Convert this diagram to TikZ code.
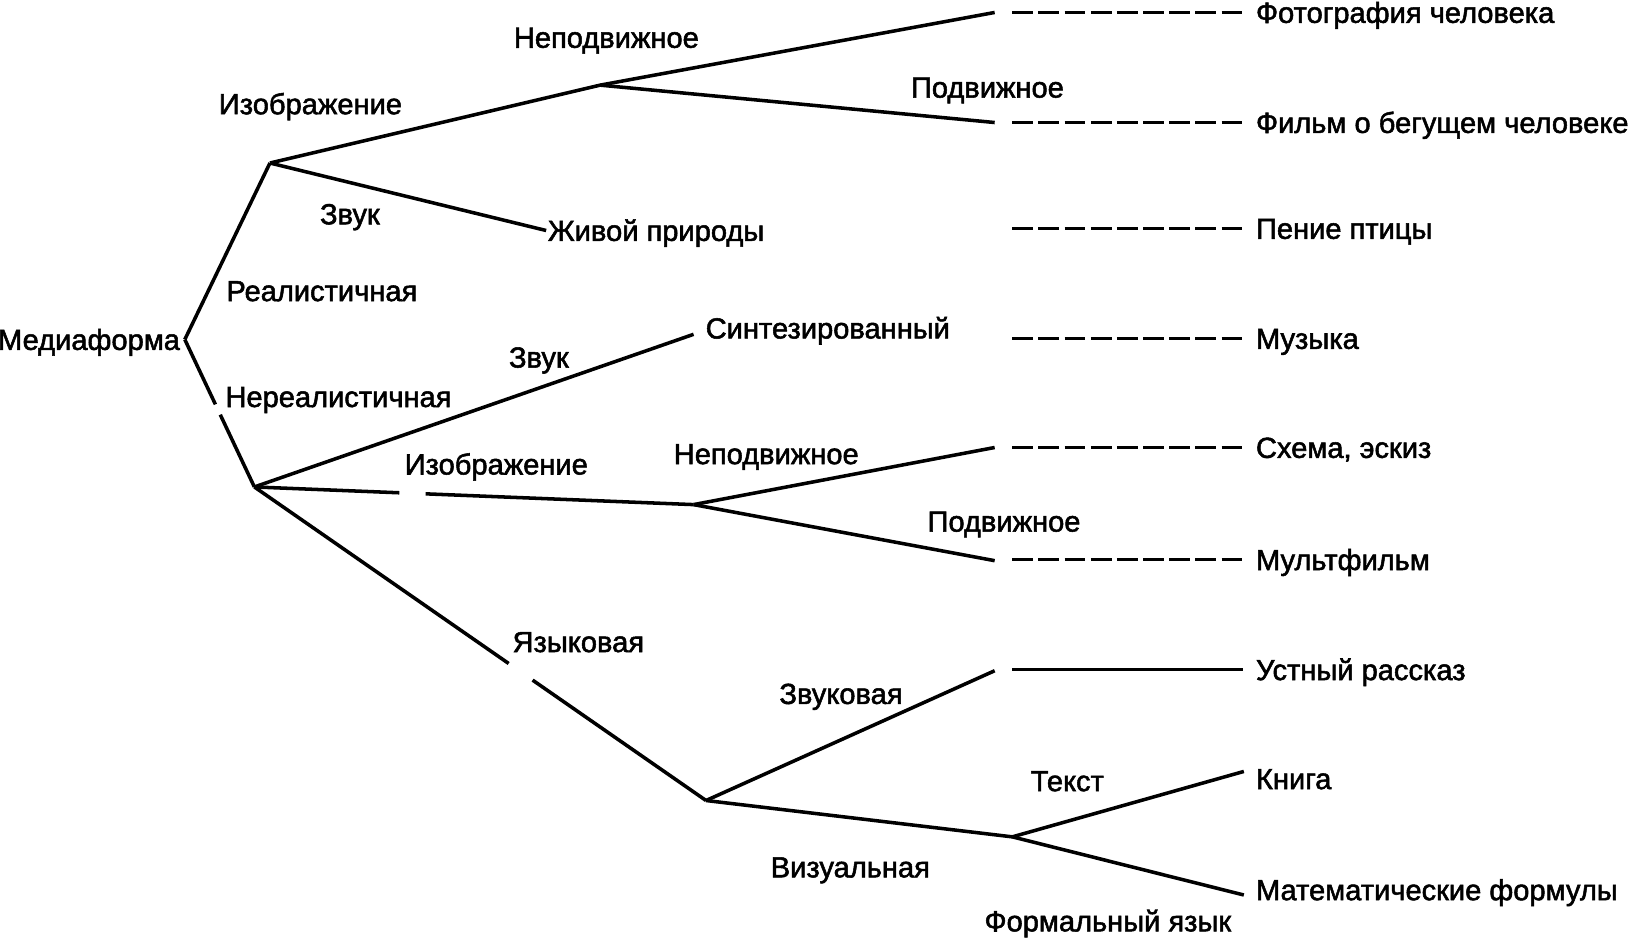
\documentclass[tikz,border=0pt]{standalone}
\usepackage{fontspec}
\setmainfont{Liberation Sans}
\newfontfamily\lblfont{Liberation Sans}[FakeBold=1.8]
\usetikzlibrary{calc}

\begin{document}
\begin{tikzpicture}[x=0.5pt, y=-0.5pt, line width=1.7pt,
    every node/.style={inner sep=0pt, text height=10pt, text depth=0pt, font=\lblfont\fontsize{14}{16}\selectfont},
    dashline/.style={dash pattern=on 10pt off 2.6pt}]
    \useasboundingbox (0,0) rectangle (1568,905);

    \coordinate (M) at (178,327);
    \coordinate (R) at (260,157);
    \coordinate (N) at (245,469);
    \node[anchor=east] (MEDIA) at (175,327) {Медиаформа};

    \draw (M) -- (R);
    \draw (M) -- ($(M)!0.44!(N)$) ($(M)!0.51!(N)$) -- (N);

    \node (REAL) at (310,280) {Реалистичная};
    \node (UNREAL) at (326,382) {Нереалистичная};

    \coordinate (S1) at (578,82);
    \coordinate (S1a) at (958,12);
    \coordinate (S1b) at (958,118);
    \node[anchor=west] (NAT) at (526,222) {Живой природы};

    \draw (R) -- (S1);
    \draw (S1) -- (S1a);
    \draw (S1) -- (S1b);
    \draw (R) -- (NAT.west);

    \node (TEXT1) at (299,100) {Изображение};
    \node (TEXT2) at (584,36) {Неподвижное};
    \node (TEXT3) at (951,84) {Подвижное};
    \node (TEXT4) at (337,206) {Звук};

    \coordinate (SY) at (668,322);
    \coordinate (S2) at (668,486);
    \coordinate (S2a) at (958,431);
    \coordinate (S2b) at (958,540);
    \node[anchor=west] (SYN) at (678,316) {Синтезированный};

    \draw (N) -- (SY);
    \draw (N) -- ($(N)!0.33!(S2)$) ($(N)!0.39!(S2)$) -- (S2);
    \draw (S2) -- (S2a);
    \draw (S2) -- (S2b);

    \node (TEXT5) at (519,344) {Звук};
    \node (TEXT6) at (478,447) {Изображение};
    \node (TEXT7) at (738,437) {Неподвижное};
    \node (TEXT8) at (967,502) {Подвижное};

    \coordinate (L) at (680,771);
    \coordinate (La) at (958,646);
    \coordinate (V) at (975,806);
    \coordinate (Va) at (1198,743);
    \coordinate (Vb) at (1198,862);

    \draw (N) -- ($(N)!0.563!(L)$) ($(N)!0.616!(L)$) -- (L);
    \draw (L) -- (La);
    \draw (L) -- (V);
    \draw (V) -- (Va);
    \draw (V) -- (Vb);

    \node (TEXT9) at (557,618) {Языковая};
    \node (TEXT10) at (810,668) {Звуковая};
    \node (TEXT11) at (1028,752) {Текст};
    \node (TEXT12) at (819,835) {Визуальная};
    \node (TEXT13) at (1067,887) {Формальный язык};

    % right column
    \node[anchor=west] (E1) at (1208,12) {Фотография человека};
    \node[anchor=west] (E2) at (1208,118) {Фильм о бегущем человеке};
    \node[anchor=west] (E3) at (1208,220) {Пение птицы};
    \node[anchor=west] (E4) at (1208,326) {Музыка};
    \node[anchor=west] (E5) at (1208,431) {Схема, эскиз};
    \node[anchor=west] (E6) at (1208,539) {Мультфильм};
    \node[anchor=west] (E7) at (1208,645) {Устный рассказ};
    \node[anchor=west] (E8) at (1208,750) {Книга};
    \node[anchor=west] (E9) at (1208,857) {Математические формулы};

    \coordinate (D1a) at (975,12);  \coordinate (D1b) at (1197,12);
    \coordinate (D2a) at (975,118); \coordinate (D2b) at (1197,118);
    \coordinate (D3a) at (975,220); \coordinate (D3b) at (1197,220);
    \coordinate (D4a) at (975,326); \coordinate (D4b) at (1197,326);
    \coordinate (D5a) at (975,431); \coordinate (D5b) at (1197,431);
    \coordinate (D6a) at (975,539); \coordinate (D6b) at (1197,539);
    \coordinate (D7a) at (975,645); \coordinate (D7b) at (1197,645);

    \draw[dashline] (D1a) -- (D1b);
    \draw[dashline] (D2a) -- (D2b);
    \draw[dashline] (D3a) -- (D3b);
    \draw[dashline] (D4a) -- (D4b);
    \draw[dashline] (D5a) -- (D5b);
    \draw[dashline] (D6a) -- (D6b);
    \draw (D7a) -- (D7b);
\end{tikzpicture}
\end{document}
